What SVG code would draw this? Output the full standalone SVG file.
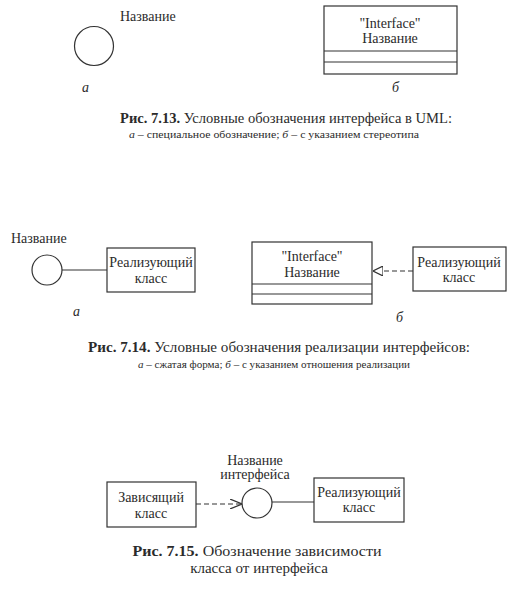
<svg xmlns="http://www.w3.org/2000/svg" width="520" height="595" viewBox="0 0 520 595">
<style>
text{font-family:"Liberation Serif","DejaVu Serif",serif;fill:#2b2b2b}
.lbl{font-size:14px}
.mid{text-anchor:middle}
.cap{font-size:15px;text-anchor:middle}
.sub{font-size:11px;text-anchor:middle}
.it{font-style:italic}
.b{font-weight:bold}
.sh{fill:#fff;stroke:#333;stroke-width:1.2}
.ln{fill:none;stroke:#333;stroke-width:1.2}
.dash{fill:none;stroke:#333;stroke-width:1.2;stroke-dasharray:5 3}
</style>
<defs>
<marker id="tri" viewBox="0 0 10 10" refX="10" refY="5" markerWidth="10" markerHeight="10" markerUnits="userSpaceOnUse" orient="auto">
<path d="M0,0 L10,5 L0,10 Z" fill="#fff" stroke="#333" stroke-width="1.2"/>
</marker>
<marker id="open" viewBox="0 0 12 10" refX="12" refY="5" markerWidth="12" markerHeight="10" markerUnits="userSpaceOnUse" orient="auto">
<path d="M0,0 L12,5 L0,10" fill="none" stroke="#333" stroke-width="1.2"/>
</marker>
</defs>

<!-- Fig 7.13 -->
<g id="f13a-iface">
<circle class="sh" cx="94" cy="46" r="19.5"/>
<text class="lbl" x="120" y="21">Название</text>
</g>
<g id="f13b-iface">
<rect class="sh" x="324" y="6" width="133" height="68"/>
<line class="ln" x1="324" y1="51" x2="457" y2="51"/>
<line class="ln" x1="324" y1="62" x2="457" y2="62"/>
<text class="lbl mid" x="390" y="28">"Interface"</text>
<text class="lbl mid" x="390" y="43">Название</text>
</g>
<text class="lbl it" x="82" y="92">а</text>
<text class="lbl it" x="392" y="92">б</text>
<text class="cap" x="286" y="123" textLength="332" lengthAdjust="spacingAndGlyphs"><tspan class="b">Рис. 7.13.</tspan> Условные обозначения интерфейса в UML:</text>
<text class="sub" x="274" y="138" textLength="290" lengthAdjust="spacingAndGlyphs"><tspan class="it">а</tspan> – специальное обозначение; <tspan class="it">б</tspan> – с указанием стереотипа</text>

<!-- Fig 7.14 -->
<g id="f14a-iface">
<circle class="sh" cx="47" cy="270" r="15"/>
<text class="lbl" x="11" y="243">Название</text>
</g>
<g id="f14a-class">
<rect class="sh" x="107" y="248" width="88" height="44"/>
<text class="lbl mid" x="151" y="267">Реализующий</text>
<text class="lbl mid" x="151" y="283">класс</text>
</g>
<g id="f14b-iface">
<rect class="sh" x="252" y="242" width="120" height="62"/>
<line class="ln" x1="252" y1="284" x2="372" y2="284"/>
<line class="ln" x1="252" y1="294" x2="372" y2="294"/>
<text class="lbl mid" x="312" y="261">"Interface"</text>
<text class="lbl mid" x="312" y="277">Название</text>
</g>
<g id="f14b-class">
<rect class="sh" x="413" y="247" width="93" height="44"/>
<text class="lbl mid" x="459" y="267">Реализующий</text>
<text class="lbl mid" x="459" y="282">класс</text>
</g>
<text class="lbl it" x="73" y="316">а</text>
<text class="lbl it" x="396" y="322">б</text>
<text class="cap" x="279" y="352" textLength="382" lengthAdjust="spacingAndGlyphs"><tspan class="b">Рис. 7.14.</tspan> Условные обозначения реализации интерфейсов:</text>
<text class="sub" x="274" y="368" textLength="272" lengthAdjust="spacingAndGlyphs"><tspan class="it">а</tspan> – сжатая форма; <tspan class="it">б</tspan> – с указанием отношения реализации</text>

<!-- Fig 7.15 -->
<g id="f15-iface">
<circle class="sh" cx="257" cy="503" r="15"/>
<text class="lbl mid" x="255" y="465">Название</text>
<text class="lbl mid" x="255" y="479">интерфейса</text>
</g>
<g id="f15-dep">
<rect class="sh" x="107" y="482" width="89" height="45"/>
<text class="lbl mid" x="151" y="502">Зависящий</text>
<text class="lbl mid" x="151" y="518">класс</text>
</g>
<g id="f15-impl">
<rect class="sh" x="314" y="478" width="90" height="44"/>
<text class="lbl mid" x="359" y="497">Реализующий</text>
<text class="lbl mid" x="359" y="512">класс</text>
</g>
<text class="cap" x="257" y="556" textLength="249" lengthAdjust="spacingAndGlyphs"><tspan class="b">Рис. 7.15.</tspan> Обозначение зависимости</text>
<text class="cap" x="259" y="573">класса от интерфейса</text>

<g id="connectors">
<line class="ln" x1="62" y1="270" x2="107" y2="270"/>
<line class="dash" x1="413" y1="271" x2="373" y2="271" marker-end="url(#tri)"/>
<line class="dash" x1="196" y1="504" x2="242" y2="504" marker-end="url(#open)"/>
<line class="ln" x1="272" y1="502" x2="314" y2="502"/>
</g>
</svg>
